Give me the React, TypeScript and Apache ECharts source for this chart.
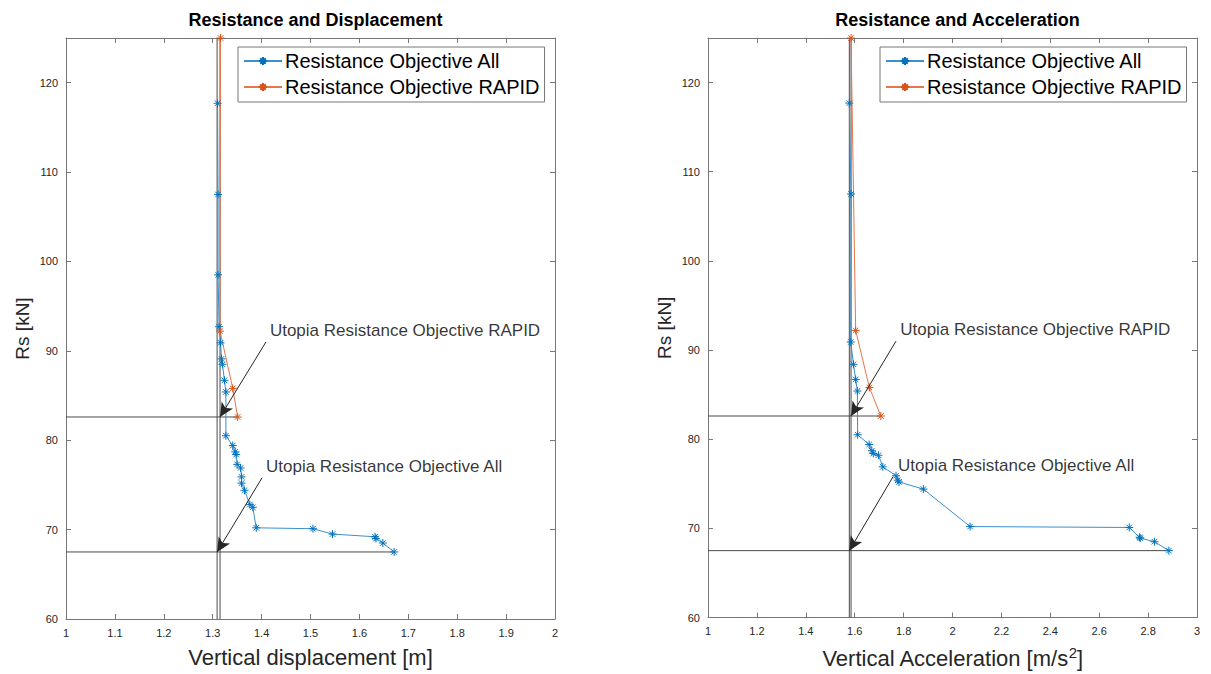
import React, { useEffect, useRef } from "react";
import * as echarts from "echarts";

// ---------- data ----------
const dispAllX = [1.310, 1.311, 1.311, 1.313, 1.316, 1.318, 1.320, 1.324, 1.327, 1.327, 1.341, 1.346, 1.348, 1.350, 1.357, 1.359, 1.359, 1.365, 1.376, 1.382, 1.389, 1.505, 1.545, 1.632, 1.634, 1.648, 1.671];
const dispAllR = [117.7, 107.5, 98.5, 92.7, 90.9, 89.1, 88.5, 86.7, 85.4, 80.5, 79.4, 78.7, 78.4, 77.3, 76.9, 75.9, 75.2, 74.4, 72.8, 72.5, 70.2, 70.1, 69.5, 69.2, 69.0, 68.5, 67.5];
const dispRapidX = [1.316, 1.315, 1.341, 1.351];
const dispRapidR = [125, 92.2, 85.8, 82.6];

const accAllX = [1.578, 1.585, 1.584, 1.595, 1.604, 1.611, 1.612, 1.659, 1.670, 1.676, 1.697, 1.715, 1.769, 1.776, 1.781, 1.881, 2.072, 2.723, 2.765, 2.768, 2.826, 2.885];
const accAllR = [117.7, 107.5, 90.9, 88.4, 86.7, 85.4, 80.5, 79.4, 78.7, 78.4, 78.2, 76.9, 75.9, 75.4, 75.2, 74.4, 70.2, 70.1, 69.0, 68.9, 68.5, 67.5];
const accRapidX = [1.585, 1.604, 1.660, 1.707];
const accRapidR = [125, 92.2, 85.8, 82.6];

// utopia points [x, R] and the x where the horizontal guide ends
const dispUtopiaAll = [1.309, 67.5, 1.671];
const dispUtopiaRapid = [1.315, 82.6, 1.351];
const accUtopiaAll = [1.578, 67.5, 2.885];
const accUtopiaRapid = [1.585, 82.6, 1.707];

// annotation text anchors and arrow starts [x, R]
const dispTextRapid = [1.417, 92.3];
const dispArrowRapid = [1.409, 91.0];
const dispTextAll = [1.409, 77.1];
const dispArrowAll = [1.401, 75.8];
const accTextRapid = [1.786, 92.3];
const accArrowRapid = [1.769, 91.0];
const accTextAll = [1.777, 77.1];
const accArrowAll = [1.757, 75.8];

const titles = ["Resistance and Displacement", "Resistance and Acceleration"];
const legendNames = ["Resistance Objective All", "Resistance Objective RAPID"];
const labelRapid = "Utopia Resistance Objective RAPID";
const labelAll = "Utopia Resistance Objective All";

const yMin = 60, yMax = 125, yStep = 10;
const xRanges = [[1, 2, 0.1], [1, 3, 0.2]];

const BLUE = "#0072BD";
const BLUE_LINE = "#3a8fd0";
const ORANGE = "#D95319";
const ORANGE_LINE = "#e5774a";
const GUIDE = "#4a4a4a";
const AXIS = "#777777";
const FONT = '"Liberation Sans", Arial, Helvetica, sans-serif';
const STAR = "path://M5,0L5,10M0,5L10,5M1.6,1.6L8.4,8.4M1.6,8.4L8.4,1.6";

const zip = (xs: number[], ys: number[]) => xs.map((x, i) => [x, ys[i]]);

export default function App() {
  const ref = useRef<HTMLDivElement>(null);
  useEffect(() => {
    if (!ref.current) return;
    const chart = echarts.init(ref.current, undefined, { renderer: "svg" });

    const grids = [
      { left: 66, top: 38, width: 489, height: 581 },
      { left: 708, top: 38, width: 489, height: 581 },
    ];

    const xAxes: any[] = [];
    const yAxes: any[] = [];
    grids.forEach((g, gi) => {
      const [mn, mx, step] = xRanges[gi];
      const base = {
        gridIndex: gi,
        type: "value",
        min: mn,
        max: mx,
        interval: step,
        splitLine: { show: false },
        axisLine: { show: true, onZero: false, lineStyle: { color: AXIS, width: 1 } },
        axisTick: { show: true, inside: true, length: 5, lineStyle: { color: AXIS } },
      };
      xAxes.push({
        ...base,
        position: "bottom",
        axisLabel: { color: "#262626", fontSize: 11, fontFamily: FONT, margin: 8 },
        name: gi === 0 ? "Vertical displacement [m]" : "Vertical Acceleration [m/s{sup|2}]",
        nameLocation: "middle",
        nameGap: 27,
        nameTextStyle: {
          color: "#262626",
          fontSize: 22,
          fontFamily: FONT,
          rich: { sup: { fontSize: 15, fontFamily: FONT, color: "#262626", padding: [0, 0, 12, 0] } },
        },
      });
      xAxes.push({ ...base, position: "top", axisLabel: { show: false } });
      const ybase = {
        gridIndex: gi,
        type: "value",
        min: yMin,
        max: yMax,
        interval: yStep,
        splitLine: { show: false },
        axisLine: { show: true, onZero: false, lineStyle: { color: AXIS, width: 1 } },
        axisTick: { show: true, inside: true, length: 5, lineStyle: { color: AXIS } },
      };
      yAxes.push({
        ...ybase,
        position: "left",
        axisLabel: {
          color: "#262626",
          fontSize: 11,
          fontFamily: FONT,
          margin: 8,
          formatter: (v: number) => (v === yMax ? "" : String(v)),
        },
        name: "Rs [kN]",
        nameLocation: "middle",
        nameGap: 34,
        nameTextStyle: { color: "#262626", fontSize: 19, fontFamily: FONT },
      });
      yAxes.push({ ...ybase, position: "right", axisLabel: { show: false } });
    });

    const guide = (gi: number, pts: number[][]) => ({
      type: "line",
      xAxisIndex: gi * 2,
      yAxisIndex: gi * 2,
      data: pts,
      showSymbol: false,
      symbol: "none",
      lineStyle: { color: GUIDE, width: 1 },
      silent: true,
      z: 1,
    });
    const guidesFor = (gi: number, u: number[]) => [
      guide(gi, [[u[0], yMin], [u[0], yMax]]),
      guide(gi, [[xRanges[gi][0], u[1]], [u[2], u[1]]]),
    ];

    const dataSeries = (gi: number, name: string, color: string, lineColor: string, pts: number[][]) => ({
      type: "line",
      name,
      xAxisIndex: gi * 2,
      yAxisIndex: gi * 2,
      data: pts,
      symbol: STAR,
      symbolSize: 8,
      showSymbol: true,
      itemStyle: { color, borderColor: color, borderWidth: 1 },
      lineStyle: { color: lineColor, width: 1 },
      z: 3,
    });

    const annot = (
      gi: number,
      tR: number[],
      aR: number[],
      uR: number[],
      tA: number[],
      aA: number[],
      uA: number[]
    ) => ({
      type: "scatter",
      xAxisIndex: gi * 2,
      yAxisIndex: gi * 2,
      symbolSize: 0,
      silent: true,
      z: 4,
      data: [
        { value: tR, name: labelRapid },
        { value: tA, name: labelAll },
      ],
      label: {
        show: true,
        position: "right",
        distance: 0,
        formatter: (p: any) => p.name,
        color: "#000",
        fontSize: 17,
        fontFamily: FONT,
      },
      markLine: {
        silent: true,
        symbol: ["none", "arrow"],
        symbolSize: [10, 14],
        label: { show: false },
        lineStyle: { color: "#262626", width: 1, type: "solid" },
        data: [
          [{ coord: aR }, { coord: [uR[0], uR[1]] }],
          [{ coord: aA }, { coord: [uA[0], uA[1]] }],
        ],
      },
    });

    const option: any = {
      animation: false,
      backgroundColor: "#ffffff",
      title: titles.map((t, i) => ({
        text: t,
        left: grids[i].left + grids[i].width / 2,
        textAlign: "center",
        top: 6,
        textStyle: { fontSize: 18, fontWeight: "bold", color: "#000", fontFamily: FONT },
      })),
      legend: grids.map((g, i) => ({
        data: legendNames,
        orient: "vertical",
        left: i === 0 ? 238 : 880,
        top: 47,
        padding: [4, 5, 5, 5],
        itemGap: 6,
        itemWidth: 38,
        itemHeight: 10,
        borderColor: AXIS,
        borderWidth: 1,
        borderRadius: 0,
        backgroundColor: "#ffffff",
        textStyle: { fontSize: 20, color: "#000", fontFamily: FONT, padding: [0, 0, 0, -2] },
        selectedMode: false,
      })),
      grid: grids,
      xAxis: xAxes,
      yAxis: yAxes,
      series: [
        ...guidesFor(0, dispUtopiaAll),
        ...guidesFor(0, dispUtopiaRapid),
        ...guidesFor(1, accUtopiaAll),
        ...guidesFor(1, accUtopiaRapid),
        dataSeries(0, legendNames[0], BLUE, BLUE_LINE, zip(dispAllX, dispAllR)),
        dataSeries(0, legendNames[1], ORANGE, ORANGE_LINE, zip(dispRapidX, dispRapidR)),
        dataSeries(1, legendNames[0], BLUE, BLUE_LINE, zip(accAllX, accAllR)),
        dataSeries(1, legendNames[1], ORANGE, ORANGE_LINE, zip(accRapidX, accRapidR)),
        annot(0, dispTextRapid, dispArrowRapid, dispUtopiaRapid, dispTextAll, dispArrowAll, dispUtopiaAll),
        annot(1, accTextRapid, accArrowRapid, accUtopiaRapid, accTextAll, accArrowAll, accUtopiaAll),
      ],
    };
    chart.setOption(option);
    return () => chart.dispose();
  }, []);
  return (
    <div
      ref={ref}
      style={{ position: "absolute", left: 0, top: 0, width: 1211, height: 674, background: "#fff" }}
    />
  );
}
